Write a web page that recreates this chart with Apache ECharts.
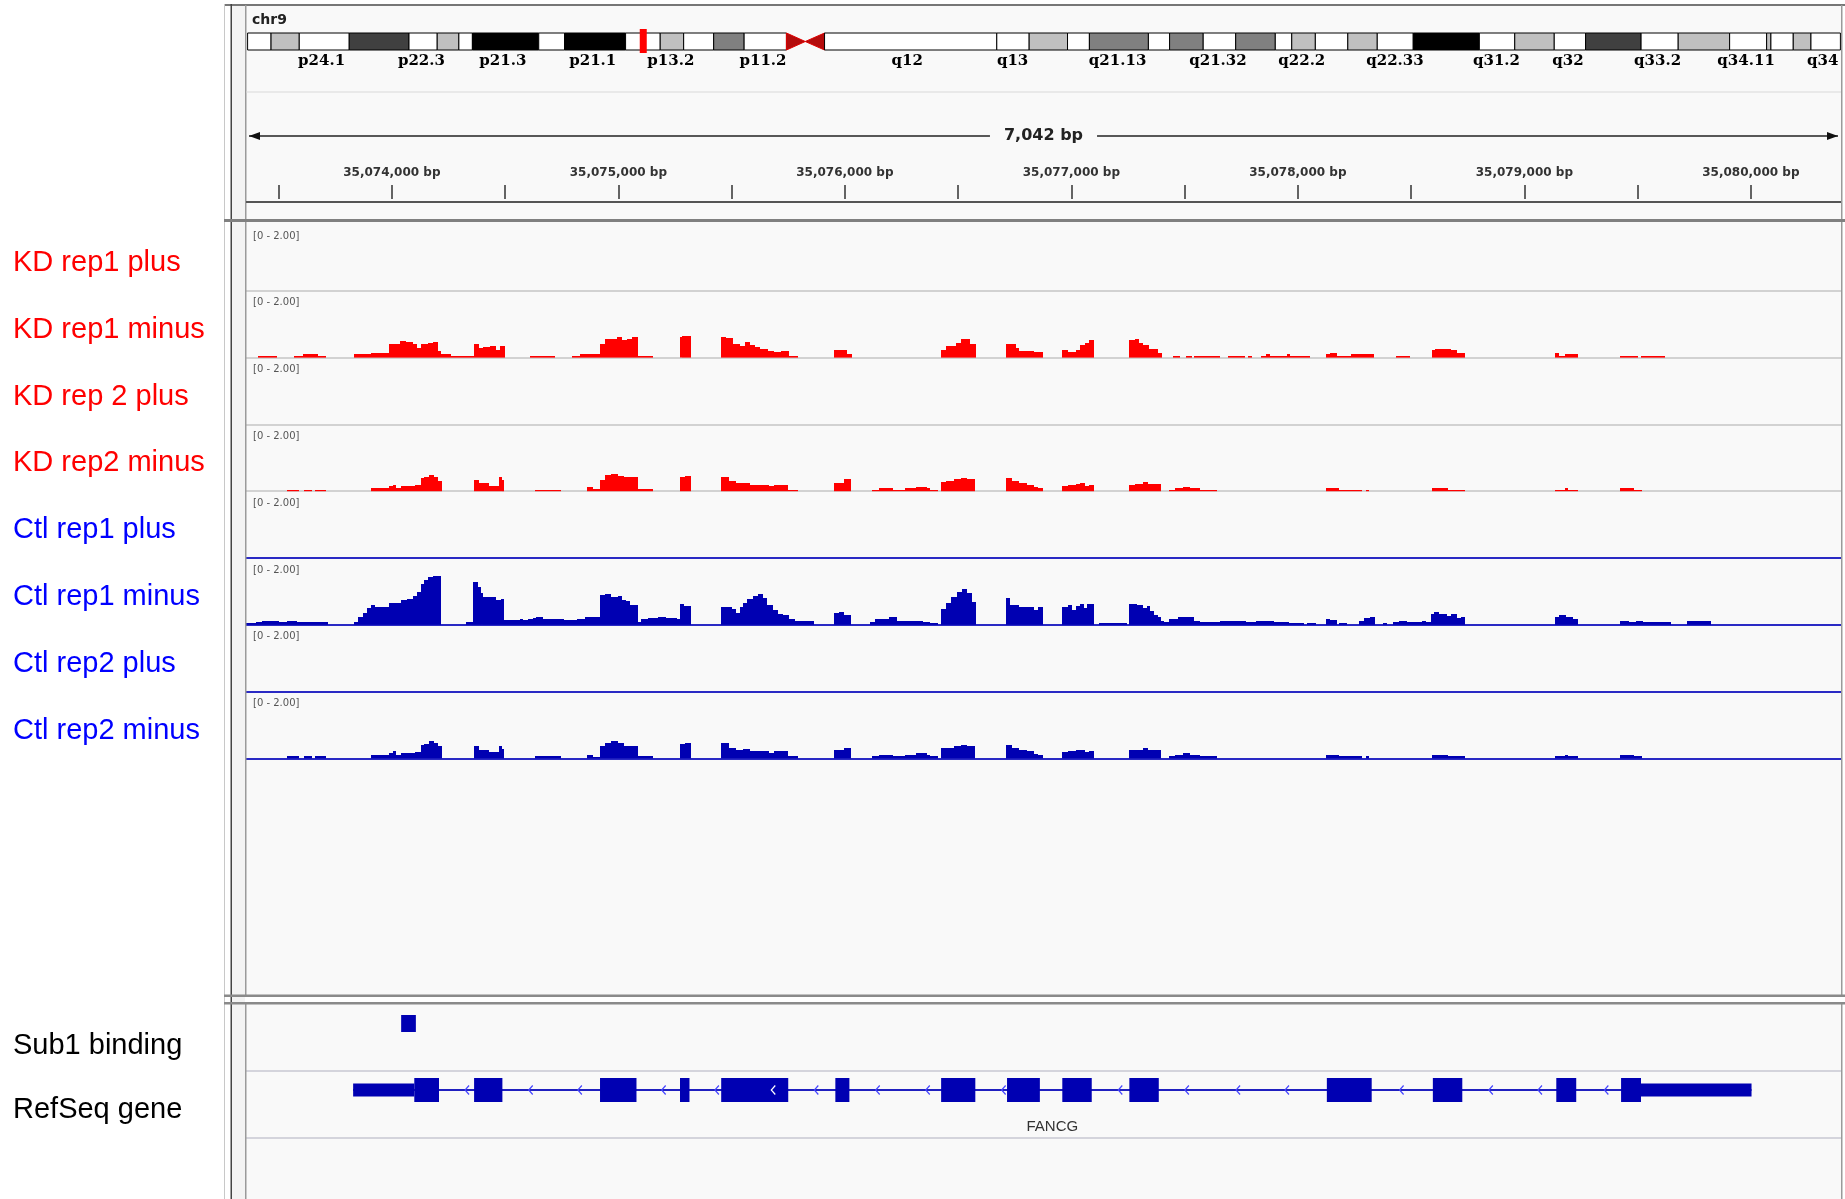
<!DOCTYPE html>
<html>
<head>
<meta charset="utf-8">
<title>chr9 FANCG coverage</title>
<script src="https://cdn.jsdelivr.net/npm/echarts@6/dist/echarts.min.js"></script>
<style>
html, body { margin: 0; padding: 0; background: #fff; }
#chart { width: 1845px; height: 1199px; }
</style>
</head>
<body>
<div id="chart"></div>
<script>
// locus shown in the browser view
var chromName = 'chr9';
var chromLengthMb = 141.21;
var regionStart = 35073356;
var regionLength = 7042;
var regionEnd = regionStart + regionLength;

// cytobands of chr9 (Mb edges) and their stain
var bandEdges = [0, 2.08, 4.58, 9.01, 14.31, 16.81, 18.73, 19.93, 25.81, 28.10, 33.51, 36.58, 38.66, 41.32, 44.02, 47.77, 49.44, 51.15, 66.42, 69.29, 72.69, 74.63, 79.86, 81.74, 84.72, 87.60, 91.11, 92.57, 94.66, 97.54, 100.15, 103.34, 109.20, 112.34, 115.84, 118.62, 123.54, 126.83, 131.39, 134.67, 135.05, 137.03, 138.60, 141.21];
var bandStains = ['gneg','gpos25','gneg','gpos75','gneg','gpos25','gneg','gpos100','gneg','gpos100','gneg','gpos25','gneg','gpos50','gneg','acenP','acenQ','gneg','gneg','gpos25','gneg','gpos50','gneg','gpos50','gneg','gpos50','gneg','gpos25','gneg','gpos25','gneg','gpos100','gneg','gpos25','gneg','gpos75','gneg','gpos25','gneg','gvar','gneg','gpos25','gneg'];
var bandLabelNames = ['p24.1','p22.3','p21.3','p21.1','p13.2','p11.2','q12','q13','q21.13','q21.32','q22.2','q22.33','q31.2','q32','q33.2','q34.11','q34'];
var bandLabelPos = [6.56, 15.41, 22.63, 30.60, 37.52, 45.69, 58.48, 67.82, 77.13, 86.03, 93.46, 101.72, 110.72, 117.05, 125.00, 132.85, 139.64];

// ruler ticks (bp)
var rulerLabelValues = [35074000, 35075000, 35076000, 35077000, 35078000, 35079000, 35080000];
var rulerTickValues = [35073500, 35074000, 35074500, 35075000, 35075500, 35076000, 35076500, 35077000, 35077500, 35078000, 35078500, 35079000, 35079500, 35080000];

// coverage tracks: [start offset, end offset, value], offsets in bp from regionStart
var trackNames = ['KD rep1 plus', 'KD rep1 minus', 'KD rep 2 plus', 'KD rep2 minus', 'Ctl rep1 plus', 'Ctl rep1 minus', 'Ctl rep2 plus', 'Ctl rep2 minus'];
var trackGroups = ['KD', 'KD', 'KD', 'KD', 'Ctl', 'Ctl', 'Ctl', 'Ctl'];
var dataRangeMax = 2.0;

var kdRep1Plus = [];
var kdRep1Minus = [
  [55,136,0.06],[212,251,0.05],[251,320,0.10],[320,355,0.05],
  [477,551,0.10],[551,570,0.13],[570,632,0.15],[632,678,0.40],[678,708,0.50],[708,736,0.47],[736,754,0.40],[754,771,0.30],[771,787,0.40],[787,805,0.42],[805,824,0.44],[824,847,0.46],[847,863,0.20],[863,905,0.10],[905,1006,0.06],
  [1006,1029,0.40],[1029,1048,0.30],[1048,1078,0.32],[1078,1105,0.36],[1105,1122,0.24],[1122,1145,0.36],
  [1255,1366,0.06],
  [1438,1475,0.06],[1475,1563,0.10],[1563,1586,0.40],[1586,1637,0.57],[1637,1660,0.62],[1660,1683,0.52],[1683,1706,0.57],[1706,1729,0.62],[1729,1798,0.06],
  [1914,1925,0.62],[1925,1964,0.66],
  [2098,2121,0.62],[2121,2149,0.58],[2149,2179,0.40],[2179,2202,0.35],[2202,2225,0.46],[2225,2248,0.37],[2248,2271,0.32],[2271,2306,0.25],[2306,2329,0.20],[2329,2364,0.17],[2364,2398,0.21],[2398,2438,0.06],
  [2595,2652,0.22],[2652,2675,0.10],
  [3068,3091,0.22],[3091,3133,0.35],[3133,3156,0.45],[3156,3195,0.55],[3195,3225,0.40],
  [3354,3398,0.40],[3398,3414,0.30],[3414,3479,0.20],[3479,3517,0.16],
  [3603,3631,0.22],[3631,3665,0.17],[3665,3683,0.22],[3683,3705,0.38],[3705,3721,0.44],[3721,3744,0.52],
  [3898,3925,0.52],[3925,3943,0.55],[3943,3959,0.45],[3959,3986,0.38],[3986,4027,0.26],[4027,4045,0.14],
  [4091,4125,0.06],[4150,4177,0.06],[4186,4299,0.06],[4335,4412,0.06],[4424,4442,0.06],
  [4480,4503,0.06],[4503,4521,0.10],[4521,4594,0.06],[4594,4610,0.10],[4610,4696,0.06],
  [4768,4786,0.10],[4786,4816,0.15],[4816,4877,0.06],[4877,4979,0.12],
  [5076,5137,0.06],
  [5235,5251,0.22],[5251,5269,0.25],[5269,5319,0.26],[5319,5348,0.22],[5348,5382,0.15],
  [5779,5795,0.15],[5795,5822,0.06],[5822,5881,0.10],
  [6067,6146,0.06],[6157,6264,0.06]
];
var kdRep2Plus = [];
var kdRep2Minus = [
  [182,233,0.05],[256,293,0.05],[304,355,0.05],
  [551,632,0.10],[632,648,0.15],[648,662,0.20],[662,685,0.10],[685,748,0.15],[748,771,0.20],[771,787,0.40],[787,810,0.44],[810,828,0.48],[828,847,0.44],[847,865,0.32],
  [1006,1029,0.34],[1029,1071,0.24],[1071,1117,0.15],[1117,1129,0.42],[1129,1140,0.34],
  [1274,1389,0.05],
  [1505,1533,0.14],[1533,1563,0.06],[1563,1586,0.34],[1586,1613,0.48],[1613,1641,0.52],[1641,1671,0.46],[1671,1729,0.42],[1729,1798,0.06],
  [1914,1937,0.42],[1937,1964,0.45],
  [2098,2133,0.44],[2133,2163,0.30],[2163,2195,0.24],[2195,2225,0.26],[2225,2271,0.20],[2271,2311,0.18],[2311,2329,0.15],[2329,2394,0.20],[2394,2438,0.05],
  [2595,2641,0.25],[2641,2671,0.37],
  [2763,2796,0.05],[2796,2856,0.10],[2856,2911,0.05],[2911,2957,0.10],[2957,3006,0.14],[3006,3022,0.10],[3022,3056,0.05],
  [3068,3091,0.28],[3091,3126,0.30],[3126,3156,0.38],[3156,3184,0.41],[3184,3220,0.36],
  [3354,3380,0.40],[3380,3414,0.30],[3414,3449,0.25],[3449,3479,0.20],[3479,3495,0.13],[3495,3517,0.10],
  [3603,3631,0.17],[3631,3665,0.20],[3665,3683,0.23],[3683,3705,0.24],[3705,3721,0.17],[3721,3744,0.20],
  [3898,3925,0.20],[3925,3959,0.23],[3959,3982,0.28],[3982,4039,0.23],
  [4073,4100,0.05],[4100,4136,0.10],[4136,4168,0.14],[4168,4213,0.10],[4213,4288,0.05],
  [4768,4827,0.10],[4827,4929,0.05],[4947,4958,0.05],
  [5235,5307,0.10],[5307,5382,0.05],
  [5779,5822,0.05],[5822,5835,0.10],[5835,5881,0.05],
  [6067,6128,0.10],[6128,6162,0.05]
];
var ctlRep1Plus = [];
var ctlRep1Minus = [
  [2,20,0.06],[20,43,0.04],[43,71,0.09],[71,113,0.12],[113,147,0.10],[147,182,0.09],[182,223,0.12],[223,362,0.07],
  [477,494,0.09],[494,517,0.22],[517,533,0.34],[533,551,0.49],[551,570,0.58],[570,632,0.52],[632,662,0.66],[662,685,0.64],[685,713,0.74],[713,736,0.78],[736,754,0.86],[754,771,0.99],[771,787,1.21],[787,805,1.35],[805,824,1.43],[824,861,1.46],
  [971,1001,0.07],[1001,1025,1.27],[1025,1036,1.13],[1036,1048,0.94],[1048,1071,0.84],[1071,1105,0.82],[1105,1124,0.74],[1124,1140,0.78],
  [1140,1209,0.14],[1209,1221,0.18],[1221,1244,0.14],[1244,1267,0.18],[1267,1279,0.19],[1279,1313,0.24],[1313,1406,0.18],[1406,1463,0.14],[1463,1498,0.18],[1498,1563,0.23],
  [1563,1586,0.88],[1586,1613,0.92],[1613,1641,0.84],[1641,1660,0.86],[1660,1678,0.74],[1678,1694,0.70],[1694,1729,0.58],
  [1729,1745,0.09],[1745,1775,0.16],[1775,1821,0.19],[1821,1856,0.22],[1856,1902,0.19],[1902,1914,0.16],
  [1914,1932,0.62],[1932,1964,0.56],
  [2098,2144,0.52],[2144,2163,0.47],[2163,2179,0.36],[2179,2195,0.54],[2195,2214,0.66],[2214,2237,0.76],[2237,2260,0.86],[2260,2283,0.91],[2283,2301,0.81],[2301,2325,0.59],[2325,2348,0.44],[2348,2371,0.32],[2371,2398,0.29],[2398,2422,0.16],[2422,2509,0.12],
  [2595,2618,0.34],[2618,2641,0.38],[2641,2671,0.28],
  [2756,2779,0.09],[2779,2837,0.18],[2837,2872,0.22],[2872,2987,0.12],[2987,3022,0.09],[3022,3056,0.06],
  [3068,3091,0.46],[3091,3114,0.64],[3114,3137,0.82],[3137,3160,0.99],[3160,3184,1.07],[3184,3207,0.94],[3207,3225,0.69],
  [3354,3375,0.79],[3375,3414,0.58],[3414,3449,0.52],[3449,3479,0.54],[3479,3495,0.44],[3495,3517,0.52],
  [3603,3631,0.54],[3631,3646,0.59],[3646,3665,0.44],[3665,3683,0.56],[3683,3699,0.62],[3699,3714,0.49],[3714,3744,0.61],
  [3767,3891,0.06],
  [3898,3932,0.62],[3932,3959,0.59],[3959,3977,0.49],[3977,3993,0.56],[3993,4009,0.40],[4009,4027,0.29],[4027,4039,0.24],[4039,4054,0.12],[4054,4077,0.07],
  [4077,4113,0.18],[4113,4186,0.22],[4186,4213,0.12],[4213,4299,0.07],[4299,4417,0.12],[4417,4458,0.09],[4458,4537,0.12],[4537,4605,0.07],[4605,4673,0.06],[4684,4725,0.06],
  [4768,4786,0.18],[4786,4816,0.14],[4827,4861,0.06],[4915,4938,0.12],[4938,4963,0.19],[4963,4983,0.22],
  [5020,5038,0.06],[5065,5092,0.09],[5092,5126,0.12],[5126,5194,0.07],[5194,5210,0.12],[5210,5233,0.07],[5233,5246,0.32],[5246,5269,0.37],[5269,5301,0.32],[5301,5319,0.26],[5319,5346,0.31],[5346,5364,0.19],[5364,5382,0.24],
  [5779,5799,0.22],[5799,5829,0.28],[5829,5858,0.22],[5858,5881,0.16],
  [6067,6107,0.12],[6107,6135,0.07],[6135,6169,0.12],[6169,6293,0.07],
  [6361,6468,0.12]
];
var ctlRep2Plus = [];
var ctlRep2Minus = [
  [182,233,0.06],[256,293,0.06],[304,355,0.06],
  [551,632,0.11],[632,648,0.16],[648,662,0.21],[662,685,0.11],[685,748,0.16],[748,771,0.19],[771,787,0.41],[787,810,0.44],[810,828,0.51],[828,847,0.47],[847,865,0.36],
  [1006,1029,0.36],[1029,1071,0.26],[1071,1117,0.18],[1117,1129,0.36],[1129,1140,0.28],
  [1274,1389,0.06],
  [1505,1533,0.11],[1533,1563,0.04],[1563,1586,0.36],[1586,1613,0.47],[1613,1641,0.52],[1641,1671,0.46],[1671,1729,0.36],[1729,1798,0.06],
  [1914,1937,0.42],[1937,1964,0.46],
  [2098,2133,0.46],[2133,2163,0.32],[2163,2195,0.26],[2195,2225,0.28],[2225,2271,0.21],[2271,2311,0.22],[2311,2329,0.16],[2329,2394,0.22],[2394,2438,0.06],
  [2595,2641,0.26],[2641,2671,0.32],
  [2763,2796,0.06],[2796,2856,0.11],[2856,2911,0.06],[2911,2957,0.11],[2957,3006,0.16],[3006,3022,0.11],[3022,3056,0.06],
  [3068,3126,0.31],[3126,3156,0.37],[3156,3184,0.41],[3184,3220,0.36],
  [3354,3380,0.41],[3380,3414,0.31],[3414,3449,0.26],[3449,3479,0.21],[3479,3495,0.14],[3495,3517,0.10],
  [3603,3631,0.18],[3631,3665,0.21],[3665,3683,0.24],[3683,3705,0.26],[3705,3721,0.18],[3721,3744,0.22],
  [3898,3925,0.24],[3925,3959,0.26],[3959,3982,0.31],[3982,4039,0.24],
  [4073,4100,0.06],[4100,4136,0.11],[4136,4168,0.16],[4168,4213,0.11],[4213,4288,0.06],
  [4768,4827,0.11],[4827,4929,0.06],[4947,4958,0.06],
  [5235,5307,0.11],[5307,5382,0.06],
  [5779,5822,0.06],[5822,5835,0.11],[5835,5881,0.06],
  [6067,6128,0.11],[6128,6162,0.06]
];
var trackData = [kdRep1Plus, kdRep1Minus, kdRep2Plus, kdRep2Minus, ctlRep1Plus, ctlRep1Minus, ctlRep2Plus, ctlRep2Minus];

// feature tracks (offsets from regionStart)
var featureNames = ['Sub1 binding', 'RefSeq gene'];
var sub1Peaks = [[685, 750]];
var geneName = 'FANCG';
var geneSpan = [473, 6647];
var geneUtrs = [[473, 743], [6159, 6647]];
var geneExons = [[743,852],[1007,1132],[1563,1724],[1916,1958],[2098,2394],[2602,2664],[3069,3220],[3360,3505],[3604,3734],[3900,4030],[4772,4970],[5240,5370],[5785,5873],[6071,6159]];
var strandArrows = [976,1257,1474,1844,2079,2328,2518,2789,3010,3345,3860,4154,4380,4596,5102,5496,5713,6006];

// ---------- layout & style ----------
var LEFT = 246, WIDTH = 1595;
var TRACK_TOP = 224, TRACK_H = 66.8;
var stainColors = { gneg: '#ffffff', gpos25: '#c0c0c0', gpos50: '#808080', gpos75: '#404040', gpos100: '#000000', gvar: '#c0c0c0' };
var acenColor = '#b40c0c';
var groupColors = { KD: '#ff0000', Ctl: '#0000b2' };
var labelColors = { KD: '#ff0000', Ctl: '#0000ff' };
var baseLineColors = { KD: '#d2d2d2', Ctl: '#2a2ac4' };
var geneColor = '#0000b2';

function bp(off) { return regionStart + off; }
function commas(v) { return String(v).replace(/\B(?=(\d{3})+(?!\d))/g, ','); }

var grids = [], xAxes = [], yAxes = [], series = [], graphics = [];

function hiddenX(gi, min, max) {
  return { gridIndex: gi, type: 'value', min: min, max: max, show: false };
}
function hiddenY(gi, max) {
  return { gridIndex: gi, type: 'value', min: 0, max: max, show: false };
}

// grid 0: ideogram
grids.push({ left: 247.6, top: 33, width: 1592.8, height: 17 });
xAxes.push(hiddenX(0, 0, chromLengthMb));
yAxes.push(hiddenY(0, 1));

series.push({
  type: 'custom', xAxisIndex: 0, yAxisIndex: 0, silent: true, z: 3,
  data: bandStains.map(function (s, i) { return [bandEdges[i], bandEdges[i + 1]]; }),
  encode: { x: [0, 1] },
  renderItem: function (params, api) {
    var a = api.coord([api.value(0), 1]);
    var b = api.coord([api.value(1), 0]);
    var x0 = a[0], x1 = b[0], y0 = a[1], y1 = b[1], ym = (y0 + y1) / 2;
    var stain = bandStains[params.dataIndex];
    if (stain === 'acenP') {
      return { type: 'polygon', shape: { points: [[x0, y0], [x1, ym], [x0, y1]] }, style: { fill: acenColor, stroke: '#e00000', lineWidth: 1 } };
    }
    if (stain === 'acenQ') {
      return { type: 'polygon', shape: { points: [[x1, y0], [x0, ym], [x1, y1]] }, style: { fill: acenColor, stroke: '#e00000', lineWidth: 1 } };
    }
    return { type: 'rect', shape: { x: x0, y: y0, width: x1 - x0, height: y1 - y0 }, style: { fill: stainColors[stain], stroke: '#000', lineWidth: 1 } };
  }
});

// current locus marker on the ideogram
series.push({
  type: 'custom', xAxisIndex: 0, yAxisIndex: 0, silent: true, z: 4,
  data: [[regionStart / 1e6, regionEnd / 1e6]],
  encode: { x: [0, 1] },
  renderItem: function (params, api) {
    var a = api.coord([api.value(0), 1]);
    var b = api.coord([api.value(1), 0]);
    var w = Math.max(7, b[0] - a[0]);
    var cx = (a[0] + b[0]) / 2;
    return { type: 'rect', shape: { x: cx - w / 2, y: a[1] - 4, width: w, height: b[1] - a[1] + 7 }, style: { fill: '#ff0000' } };
  }
});

// band names below the ideogram
series.push({
  type: 'custom', xAxisIndex: 0, yAxisIndex: 0, silent: true, z: 4,
  data: bandLabelPos.map(function (p) { return [p]; }),
  encode: { x: 0 },
  renderItem: function (params, api) {
    var p = api.coord([api.value(0), 0]);
    return {
      type: 'text', x: p[0], y: p[1] + 11,
      style: { text: bandLabelNames[params.dataIndex], fill: '#000', font: 'bold 15px "DejaVu Serif", serif',
        align: 'center', verticalAlign: 'middle', textAlign: 'center', textVerticalAlign: 'middle' }
    };
  }
});

// grid 1: ruler
grids.push({ left: LEFT, top: 185, width: WIDTH, height: 14 });
xAxes.push({
  gridIndex: 1, type: 'value', min: regionStart, max: regionEnd, position: 'bottom',
  axisLine: { show: false },
  axisTick: { show: true, inside: true, length: 14, customValues: rulerTickValues, lineStyle: { color: '#333', width: 1.5 } },
  axisLabel: { show: true, inside: true, margin: 20, customValues: rulerLabelValues,
    formatter: function (v) { return commas(v) + ' bp'; },
    color: '#333', fontFamily: '"DejaVu Sans", sans-serif', fontWeight: 'bold', fontSize: 12 },
  splitLine: { show: false }
});
yAxes.push(hiddenY(1, 1));

// span arrow with "7,042 bp"
series.push({
  type: 'custom', xAxisIndex: 1, yAxisIndex: 1, silent: true, z: 4,
  data: [[regionStart, regionEnd]],
  encode: { x: [0, 1] },
  renderItem: function (params, api) {
    var a = api.coord([api.value(0), 0]);
    var b = api.coord([api.value(1), 0]);
    var y = 136, x0 = a[0] + 3, x1 = b[0] - 3;
    return {
      type: 'group', children: [
        { type: 'line', shape: { x1: x0, y1: y, x2: x1, y2: y }, style: { stroke: '#222', lineWidth: 1.5 } },
        { type: 'polygon', shape: { points: [[x0, y], [x0 + 11, y - 4], [x0 + 11, y + 4]] }, style: { fill: '#111' } },
        { type: 'polygon', shape: { points: [[x1, y], [x1 - 11, y - 4], [x1 - 11, y + 4]] }, style: { fill: '#111' } },
        { type: 'text', x: (a[0] + b[0]) / 2, y: y,
          style: { text: commas(api.value(1) - api.value(0)) + ' bp', fill: '#222', font: 'bold 16px "DejaVu Sans", sans-serif',
            align: 'center', verticalAlign: 'middle', textAlign: 'center', textVerticalAlign: 'middle',
            backgroundColor: '#f9f9f9', padding: [3, 14] } }
      ]
    };
  }
});

// coverage tracks: grids 2..9
function renderCoverage(params, api) {
  var top = api.coord([api.value(0), api.value(2)]);
  var base = api.coord([api.value(1), 0]);
  var x0 = Math.round(top[0]), x1 = Math.round(base[0]);
  var y0 = Math.round(top[1]), y1 = base[1];
  return { type: 'rect', shape: { x: x0, y: y0, width: Math.max(1, x1 - x0), height: y1 - y0 }, style: { fill: api.visual('color') } };
}

trackNames.forEach(function (name, i) {
  var gi = 2 + i;
  var top = TRACK_TOP + i * TRACK_H;
  var grp = trackGroups[i];
  grids.push({ left: LEFT, top: top, width: WIDTH, height: TRACK_H });
  xAxes.push({
    gridIndex: gi, type: 'value', min: regionStart, max: regionEnd,
    axisLine: { show: true, lineStyle: { color: baseLineColors[grp], width: 2 } },
    axisTick: { show: false }, axisLabel: { show: false }, splitLine: { show: false }
  });
  yAxes.push(hiddenY(gi, dataRangeMax));
  series.push({
    type: 'custom', name: name, xAxisIndex: gi, yAxisIndex: gi, silent: true,
    itemStyle: { color: groupColors[grp] },
    data: trackData[i].map(function (d) { return [bp(d[0]), bp(d[1]), d[2]]; }),
    encode: { x: [0, 1], y: 2 },
    renderItem: renderCoverage
  });
  graphics.push({
    type: 'text', x: 253, y: top + 12, z: 15, silent: true,
    style: { text: '[0 - ' + dataRangeMax.toFixed(2) + ']', fill: '#555', font: '10px "DejaVu Sans", sans-serif',
      align: 'left', verticalAlign: 'middle', textAlign: 'left', textVerticalAlign: 'middle' }
  });
  graphics.push({
    type: 'text', x: 13, y: top + TRACK_H / 2 + 5.5, z: 15, silent: true,
    style: { text: name, fill: labelColors[grp], font: '29px "Liberation Sans", Arial, sans-serif',
      align: 'left', verticalAlign: 'middle', textAlign: 'left', textVerticalAlign: 'middle' }
  });
});

// feature tracks: grid 10 (Sub1 binding), grid 11 (RefSeq gene)
var FEATURE_TOP = 1004, FEATURE_H = 67;
var featureLabelShift = [8, 5];
featureNames.forEach(function (name, k) {
  var gi = 10 + k;
  var top = FEATURE_TOP + k * FEATURE_H;
  grids.push({ left: LEFT, top: top, width: WIDTH, height: FEATURE_H });
  xAxes.push({
    gridIndex: gi, type: 'value', min: regionStart, max: regionEnd,
    axisLine: { show: true, lineStyle: { color: '#d4d4dc', width: 2 } },
    axisTick: { show: false }, axisLabel: { show: false }, splitLine: { show: false }
  });
  yAxes.push(hiddenY(gi, 1));
  graphics.push({
    type: 'text', x: 13, y: top + FEATURE_H / 2 + featureLabelShift[k], z: 15, silent: true,
    style: { text: name, fill: '#000', font: '29px "Liberation Sans", Arial, sans-serif',
      align: 'left', verticalAlign: 'middle', textAlign: 'left', textVerticalAlign: 'middle' }
  });
});

series.push({
  type: 'custom', name: 'Sub1 binding', xAxisIndex: 10, yAxisIndex: 10, silent: true,
  data: sub1Peaks.map(function (d) { return [bp(d[0]), bp(d[1])]; }),
  encode: { x: [0, 1] },
  renderItem: function (params, api) {
    var a = api.coord([api.value(0), 0]);
    var b = api.coord([api.value(1), 0]);
    return { type: 'rect', shape: { x: a[0], y: params.coordSys.y + 11, width: b[0] - a[0], height: 17 }, style: { fill: geneColor } };
  }
});

function spanRenderer(offsetY, height) {
  return function (params, api) {
    var a = api.coord([api.value(0), 0]);
    var b = api.coord([api.value(1), 0]);
    return { type: 'rect', shape: { x: a[0], y: params.coordSys.y + offsetY, width: b[0] - a[0], height: height }, style: { fill: geneColor } };
  };
}

series.push({
  type: 'custom', name: 'intron', xAxisIndex: 11, yAxisIndex: 11, silent: true, z: 2,
  data: [[bp(geneSpan[0]), bp(geneSpan[1])]],
  encode: { x: [0, 1] },
  renderItem: function (params, api) {
    var a = api.coord([api.value(0), 0]);
    var b = api.coord([api.value(1), 0]);
    var y = params.coordSys.y + 19;
    return { type: 'line', shape: { x1: a[0], y1: y, x2: b[0], y2: y }, style: { stroke: '#2020c0', lineWidth: 2 } };
  }
});
series.push({
  type: 'custom', name: 'UTR', xAxisIndex: 11, yAxisIndex: 11, silent: true, z: 3,
  data: geneUtrs.map(function (d) { return [bp(d[0]), bp(d[1])]; }),
  encode: { x: [0, 1] },
  renderItem: spanRenderer(12.5, 13)
});
series.push({
  type: 'custom', name: 'exon', xAxisIndex: 11, yAxisIndex: 11, silent: true, z: 3,
  data: geneExons.map(function (d) { return [bp(d[0]), bp(d[1])]; }),
  encode: { x: [0, 1] },
  renderItem: spanRenderer(7, 24)
});
series.push({
  type: 'custom', name: 'strand', xAxisIndex: 11, yAxisIndex: 11, silent: true, z: 4,
  data: strandArrows.map(function (d) { return [bp(d)]; }),
  encode: { x: 0 },
  renderItem: function (params, api) {
    var off = api.value(0) - regionStart;
    var inExon = geneExons.some(function (e) { return off > e[0] && off < e[1]; });
    var p = api.coord([api.value(0), 0]);
    var y = params.coordSys.y + 19;
    return { type: 'polyline', shape: { points: [[p[0] + 2, y - 4.5], [p[0] - 2, y], [p[0] + 2, y + 4.5]] },
      style: { stroke: inExon ? '#ffffff' : '#4646ff', lineWidth: 1.2, fill: null } };
  }
});
series.push({
  type: 'custom', name: 'gene name', xAxisIndex: 11, yAxisIndex: 11, silent: true, z: 4,
  data: [[bp((geneSpan[0] + geneSpan[1]) / 2)]],
  encode: { x: 0 },
  renderItem: function (params, api) {
    var p = api.coord([api.value(0), 0]);
    return { type: 'text', x: p[0], y: params.coordSys.y + 56,
      style: { text: geneName, fill: '#333', font: '15px "Liberation Sans", Arial, sans-serif',
        align: 'center', verticalAlign: 'middle', textAlign: 'center', textVerticalAlign: 'middle' } };
  }
});

// ---------- panel frames ----------
function box(x, y, w, h, fill, z) {
  return { type: 'rect', z: z, silent: true, shape: { x: x, y: y, width: w, height: h }, style: { fill: fill } };
}
graphics.push(box(246, 5, 1595, 214, '#f9f9f9', -10));
graphics.push(box(246, 222, 1595, 773, '#f9f9f9', -10));
graphics.push(box(246, 1004, 1595, 195, '#f9f9f9', -10));
graphics.push(box(232, 5, 13, 1194, '#f3f3f3', -10));
graphics.push(box(224, 4, 1621, 2, '#777777', 20));
graphics.push(box(224, 4, 1, 1195, '#c8c8c8', 20));
graphics.push(box(230.5, 4, 1.5, 1195, '#444444', 20));
graphics.push(box(245, 5, 1.5, 990, '#9a9a9a', 20));
graphics.push(box(245, 1003, 1.5, 196, '#9a9a9a', 20));
graphics.push(box(1841, 5, 1.5, 990, '#9a9a9a', 20));
graphics.push(box(1841, 1003, 1.5, 196, '#9a9a9a', 20));
graphics.push(box(246, 91.5, 1595, 1, '#d9d9d9', 20));
graphics.push(box(246, 201, 1595, 2, '#555555', 20));
graphics.push(box(224, 219, 1621, 3, '#808080', 20));
graphics.push(box(224, 994.5, 1621, 2.5, '#8a8a8a', 20));
graphics.push(box(224, 1002, 1621, 2.5, '#8a8a8a', 20));
graphics.push({
  type: 'text', x: 252, y: 20, z: 15, silent: true,
  style: { text: chromName, fill: '#222', font: 'bold 14px "DejaVu Sans", sans-serif',
    align: 'left', verticalAlign: 'middle', textAlign: 'left', textVerticalAlign: 'middle' }
});

var myChart = echarts.init(document.getElementById('chart'));
myChart.setOption({
  animation: false,
  backgroundColor: '#ffffff',
  grid: grids,
  xAxis: xAxes,
  yAxis: yAxes,
  series: series,
  graphic: { elements: graphics }
});
</script>
</body>
</html>
